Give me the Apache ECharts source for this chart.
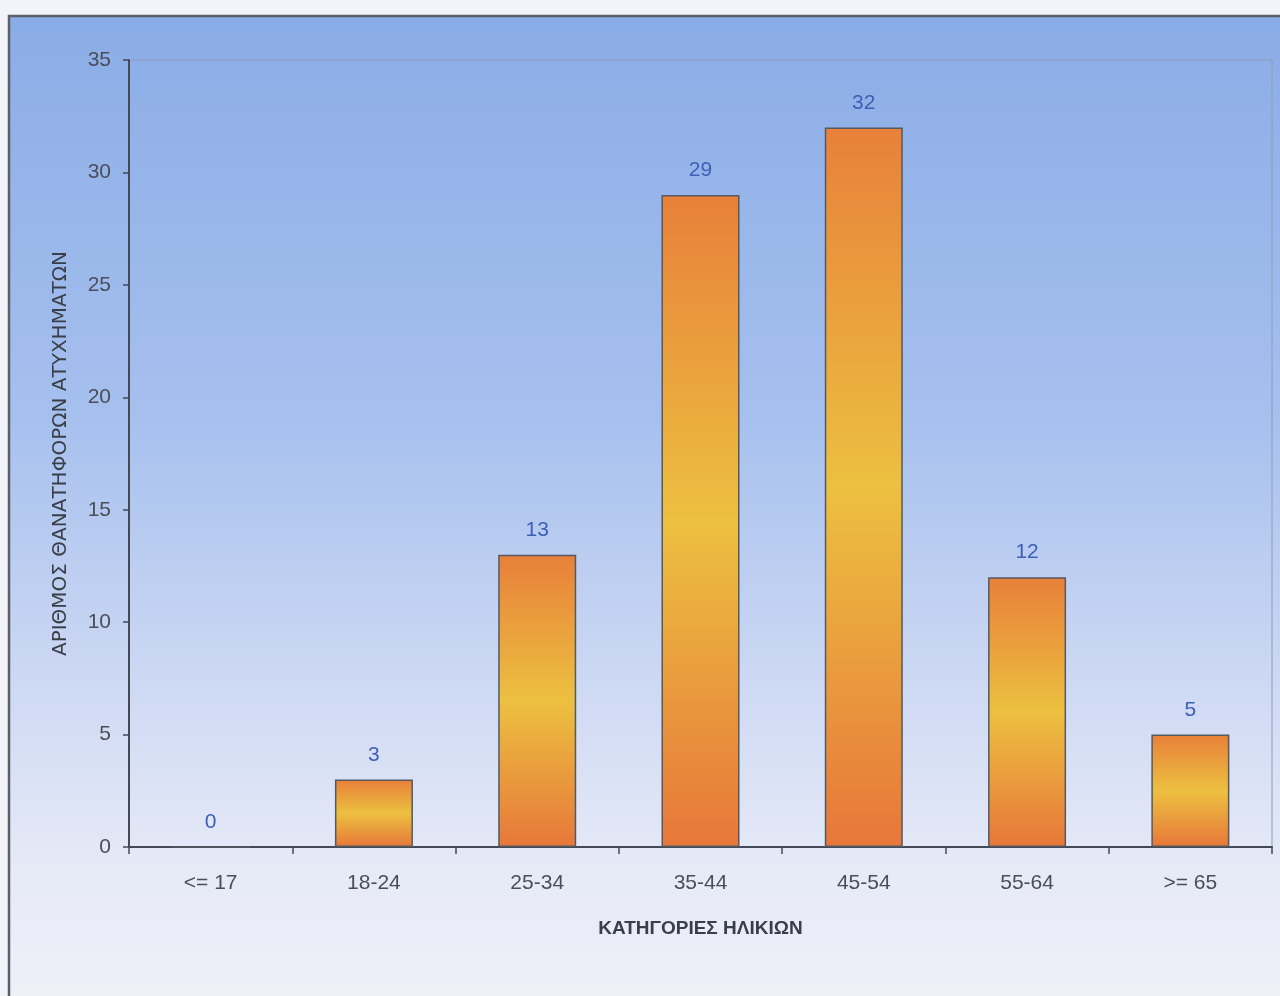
<!DOCTYPE html>
<html><head><meta charset="utf-8">
<script src="https://cdn.jsdelivr.net/npm/echarts@6/dist/echarts.min.js"></script>
<style>html,body{margin:0;padding:0;background:#f3f4f9;}#c{width:1280px;height:996px;}</style>
</head><body><div id="c"></div>
<script>
const categories = ['<= 17','18-24','25-34','35-44','45-54','55-64','>= 65'];
const values = [0,3,13,29,32,12,5];
const yTicks = {min:0,max:35,interval:5};
const yTitle = 'ΑΡΙΘΜΟΣ ΘΑΝΑΤΗΦΟΡΩΝ ΑΤΥΧΗΜΑΤΩΝ';
const xTitle = 'ΚΑΤΗΓΟΡΙΕΣ ΗΛΙΚΙΩΝ';

const font = '"Liberation Sans Narrow","Arial Narrow","Liberation Sans",Arial,sans-serif';
const chart = echarts.init(document.getElementById('c'));
chart.setOption({
  backgroundColor:'#f3f4f9',
  animation:false,
  graphic:[{type:'rect',z:-10,shape:{x:9,y:16,width:1300,height:1000},
    style:{stroke:'#5a5f6a',lineWidth:2.5,
      fill:new echarts.graphic.LinearGradient(0,0,0,1,[
        {offset:0,color:'#8aace6'},{offset:0.4,color:'#a6c0ee'},
        {offset:0.65,color:'#cbd7f3'},{offset:0.85,color:'#e6eaf7'},{offset:1,color:'#f0f1f8'}])}}],
  grid:{left:129,right:8,top:60,bottom:149,show:true,borderColor:'#8e9cbc',borderWidth:1,backgroundColor:'transparent'},
  xAxis:{type:'category',data:categories,
    axisLine:{lineStyle:{color:'#444a55',width:2}},
    axisTick:{show:true,length:7,lineStyle:{color:'#444a55',width:1.5},alignWithLabel:false},
    axisLabel:{color:'#4a4e58',fontFamily:font,fontSize:21,margin:26},
    name:xTitle,nameLocation:'middle',nameGap:72,
    nameTextStyle:{fontFamily:font,fontSize:19,fontWeight:'bold',color:'#3a3e48'}},
  yAxis:{type:'value',min:yTicks.min,max:yTicks.max,interval:yTicks.interval,
    splitLine:{show:false},
    axisLine:{show:true,lineStyle:{color:'#444a55',width:2}},
    axisTick:{show:true,length:6,lineStyle:{color:'#444a55',width:1.5}},
    axisLabel:{color:'#4a4e58',fontFamily:font,fontSize:21,margin:18},
    name:yTitle,nameLocation:'middle',nameGap:58,nameRotate:90,
    nameTextStyle:{fontFamily:'"DejaVu Sans",Verdana,sans-serif',fontSize:20,color:'#3a3e48'}},
  series:[{type:'bar',data:values,barWidth:78,
    itemStyle:{borderColor:'#555a60',borderWidth:1.5,
      color:new echarts.graphic.LinearGradient(0,0,0,1,[
        {offset:0,color:'#e8803a'},{offset:0.5,color:'#ecc040'},{offset:1,color:'#e7773a'}])},
    label:{show:true,position:'top',distance:14,color:'#3d5fb4',fontFamily:font,fontSize:21}}]
});
</script></body></html>
